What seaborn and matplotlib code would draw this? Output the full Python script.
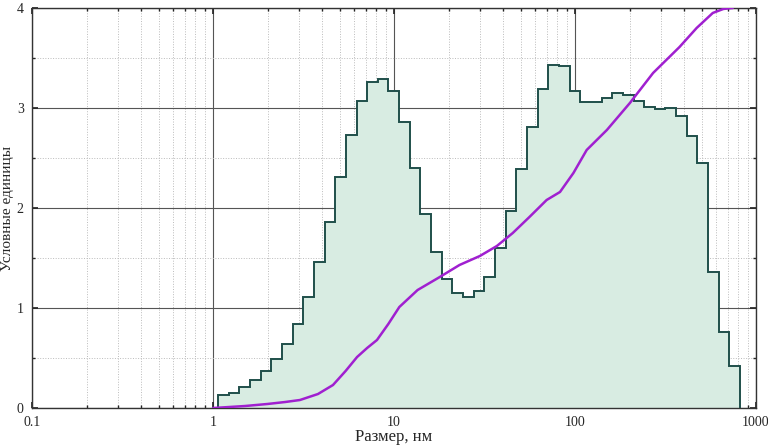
import numpy as np
import pandas as pd
import matplotlib
matplotlib.use("Agg")
import matplotlib.pyplot as plt
import seaborn as sns

# histogram: 49 log-spaced bins
edge_lo, edge_hi, n_bins = 1.066, 816.0, 49
heights = [0.13, 0.15, 0.21, 0.28, 0.37, 0.49, 0.64, 0.84, 1.11, 1.46,
           1.86, 2.31, 2.73, 3.07, 3.26, 3.29, 3.17, 2.86, 2.40, 1.94,
           1.56, 1.29, 1.15, 1.11, 1.17, 1.31, 1.60, 1.97, 2.39, 2.81,
           3.19, 3.43, 3.42, 3.17, 3.06, 3.06, 3.10, 3.15, 3.13, 3.07,
           3.01, 2.99, 3.00, 2.92, 2.72, 2.45, 1.36, 0.76, 0.42]

# cumulative curve (scaled to 0..4)
cum_x = [1.0, 1.5, 1.99, 2.5, 3.02, 3.8, 4.6, 5.4, 6.25, 7.1, 8.05, 9.3,
         10.7, 13.5, 17.9, 23, 29.8, 37, 45.3, 56, 69.7, 82.6, 98, 116,
         150, 201, 270, 378, 470, 577, 660, 744]
cum_y = [0.0, 0.02, 0.04, 0.06, 0.08, 0.14, 0.23, 0.37, 0.51, 0.60, 0.68,
         0.84, 1.01, 1.18, 1.31, 1.43, 1.52, 1.62, 1.75, 1.91, 2.08, 2.16,
         2.35, 2.58, 2.78, 3.05, 3.35, 3.61, 3.80, 3.95, 3.99, 4.0]

sns.set_theme(style="white")
plt.rcParams["font.family"] = ["Liberation Serif", "DejaVu Serif"]
plt.rcParams["hatch.color"] = "#8cc0a8"
plt.rcParams["hatch.linewidth"] = 0.6

fig = plt.figure(figsize=(7.68, 4.47), dpi=100)
ax = fig.add_axes([0.0417, 0.0872, 0.9427, 0.895])

edges = np.geomspace(edge_lo, edge_hi, n_bins + 1)
ax.stairs(heights, edges, fill=True, facecolor="#d8ece2", edgecolor="none",
          hatch="....", zorder=2)
ax.stairs(heights, edges, fill=False, color="#1f4f4a", linewidth=1.4, zorder=3)

df = pd.DataFrame({"x": cum_x, "y": cum_y})
sns.lineplot(data=df, x="x", y="y", color="#a020d0", linewidth=1.8, ax=ax, zorder=4)

ax.set_xscale("log")
ax.set_xlim(0.1, 1000)
ax.set_ylim(0, 4)
ax.set_yticks([0, 1, 2, 3, 4])
ax.set_xticks([0.1, 1, 10, 100, 1000])
ax.set_xticklabels(["0.1", "1", "10", "100", "1000"])
ax.yaxis.set_minor_locator(matplotlib.ticker.MultipleLocator(0.5))
ax.grid(which="major", color="#555555", linewidth=0.8, zorder=1)
ax.grid(which="minor", color="#bbbbbb", linestyle=":", linewidth=0.7, zorder=1)
ax.set_axisbelow(True)
ax.tick_params(which="both", direction="in", top=True, right=True,
               bottom=True, left=True, labelsize=10)
ax.tick_params(axis="x", which="major", length=4, pad=6)
ax.tick_params(axis="y", which="major", length=4, pad=6)
ax.tick_params(which="minor", length=2)
for s in ax.spines.values():
    s.set_color("#333333")
    s.set_linewidth(1.0)
ax.set_xlabel("Размер, нм", fontsize=12, labelpad=0)
ax.set_ylabel("Условные единицы", fontsize=11, labelpad=2)

fig.savefig("out.png", dpi=100)
